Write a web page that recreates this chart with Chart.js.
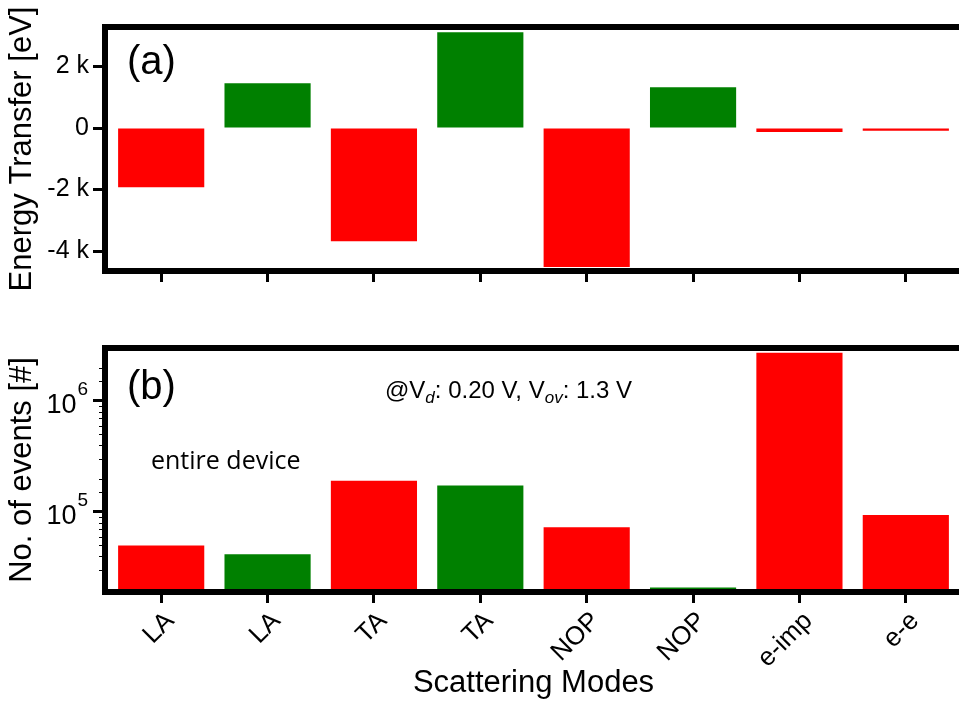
<!DOCTYPE html>
<html>
<head>
<meta charset="utf-8">
<script src="https://cdn.jsdelivr.net/npm/chart.js@4.4.1/dist/chart.umd.min.js"></script>
<style>
  html, body { margin: 0; padding: 0; background: #fff; }
  #wrap { position: relative; width: 959px; height: 704px; overflow: hidden; }
  .panel { position: absolute; left: 0; width: 959px; }
  #top { top: 0; height: 300px; }
  #bottom { top: 300px; height: 404px; }
</style>
</head>
<body>
<div id="wrap">
  <div class="panel" id="top"><canvas id="energyChart"></canvas></div>
  <div class="panel" id="bottom"><canvas id="eventsChart"></canvas></div>
</div>
<script>
// scattering modes, emission (red, loss) / absorption (green, gain)
const modes = ["LA", "LA", "TA", "TA", "NOP", "NOP", "e-imp", "e-e"];
const energyTransfer = [-1920, 1460, -3680, 3120, -4520, 1330, -130, -90];   // eV
const eventCounts = [49700, 41600, 191000, 173000, 72800, 20800, 2720000, 94000];
const energyTicks = [-4000, -2000, 0, 2000];
const eventTicks = [1e5, 1e6];
const energyRange = [-4550, 3190];
const eventRange = [20200, 2820000];

const lossColor = "#ff0000";
const gainColor = "#008000";
const barColors = energyTransfer.map(v => v < 0 ? lossColor : gainColor);

const FONT = "'Liberation Sans', Arial, sans-serif";
Chart.defaults.font.family = FONT;
Chart.defaults.color = "#000";
Chart.defaults.animation = false;

const AXIS_W = 108;

const framePlugin = {
    id: "frame",
    afterDatasetsDraw(chart) {
        const { ctx, chartArea: a } = chart;
        ctx.save();
        ctx.strokeStyle = "#000";
        ctx.lineWidth = 6;
        ctx.strokeRect(a.left - 3, a.top - 3, a.right - a.left + 6, a.bottom - a.top + 6);
        ctx.restore();
    }
};

function panelLabel(ctx, text, x, y) {
    ctx.font = "40px " + FONT;
    ctx.fillStyle = "#000";
    ctx.textBaseline = "alphabetic";
    ctx.textAlign = "left";
    ctx.fillText(text, x, y);
}

const energyNotes = {
    id: "energyNotes",
    afterDraw(chart) {
        const { ctx, chartArea: a } = chart;
        ctx.save();
        panelLabel(ctx, "(a)", a.left + 19, a.top + 44);
        ctx.restore();
    }
};

const eventNotes = {
    id: "eventNotes",
    afterDraw(chart) {
        const { ctx, chartArea: a } = chart;
        const y = chart.scales.y;
        ctx.save();
        panelLabel(ctx, "(b)", a.left + 19, a.top + 48);

        // bias condition with subscripts
        const parts = [
            ["@V", "24px " + FONT, 0],
            ["d", "italic 17px " + FONT, 5],
            [": 0.20 V, V", "24px " + FONT, 0],
            ["ov", "italic 17px " + FONT, 5],
            [": 1.3 V", "24px " + FONT, 0]
        ];
        let x = a.left + 277;
        parts.forEach(([t, f, dy]) => {
            ctx.font = f;
            ctx.fillText(t, x, a.top + 47 + dy);
            x += ctx.measureText(t).width;
        });

        ctx.font = "25px 'Open Sans', sans-serif";
        ctx.fillText("entire device", a.left + 43, a.top + 118);

        // decade labels 10^n
        eventTicks.forEach(v => {
            const py = y.getPixelForValue(v);
            const exp = String(Math.round(Math.log10(v)));
            ctx.font = "19px " + FONT;
            ctx.textAlign = "right";
            const ew = ctx.measureText(exp).width;
            const xr = a.left - 20;
            ctx.fillText(exp, xr, py - 6);
            ctx.font = "27px " + FONT;
            ctx.fillText("10", xr - ew - 1, py + 12);
        });

        // minor log ticks
        ctx.fillStyle = "#000";
        y.ticks.forEach(t => {
            if (isDecade(t.value)) return;
            const py = Math.round(y.getPixelForValue(t.value));
            if (py <= a.top || py >= a.bottom) return;
            ctx.fillRect(a.left - 9, py, 3, 1);
        });
        ctx.restore();
    }
};

function isDecade(v) {
    const e = Math.log10(v);
    return Math.abs(e - Math.round(e)) < 1e-9;
}

function xAxis(showLabels, height) {
    return {
        offset: true,
        border: { display: false },
        grid: { offset: false, drawOnChartArea: false, drawTicks: true, tickLength: 14, tickWidth: 3, color: "#000" },
        ticks: {
            display: showLabels,
            maxRotation: 45, minRotation: 45,
            labelOffset: 9,
            padding: 3,
            font: { size: 26 }
        },
        title: showLabels ? { display: true, text: "Scattering Modes", font: { size: 31 }, padding: { top: 0, bottom: 2 } } : { display: false },
        afterFit: s => { s.height = height; }
    };
}

new Chart(document.getElementById("energyChart"), {
    type: "bar",
    data: {
        labels: modes,
        datasets: [{ data: energyTransfer, backgroundColor: barColors, barPercentage: 0.81, categoryPercentage: 1 }]
    },
    options: {
        responsive: true,
        maintainAspectRatio: false,
        layout: { padding: { top: 30, left: 0, right: 0, bottom: 0 } },
        plugins: { legend: { display: false }, tooltip: { enabled: false } },
        scales: {
            x: xAxis(false, 32),
            y: {
                min: energyRange[0], max: energyRange[1],
                border: { display: false },
                afterBuildTicks: s => { s.ticks = energyTicks.map(v => ({ value: v })); },
                grid: { drawOnChartArea: false, tickLength: 15, tickWidth: 3, color: "#000" },
                ticks: {
                    padding: 4,
                    font: { size: 25 },
                    callback: v => v === 0 ? "0" : (v / 1000) + " k"
                },
                title: { display: true, text: "Energy Transfer [eV]", font: { size: 31 }, padding: { top: 4, bottom: 0 } },
                afterFit: s => { s.width = AXIS_W; }
            }
        }
    },
    plugins: [framePlugin, energyNotes]
});

new Chart(document.getElementById("eventsChart"), {
    type: "bar",
    data: {
        labels: modes,
        datasets: [{ data: eventCounts, backgroundColor: barColors, barPercentage: 0.81, categoryPercentage: 1 }]
    },
    options: {
        responsive: true,
        maintainAspectRatio: false,
        layout: { padding: { top: 51, left: 0, right: 0, bottom: 0 } },
        plugins: { legend: { display: false }, tooltip: { enabled: false } },
        scales: {
            x: xAxis(true, 115),
            y: {
                type: "logarithmic",
                min: eventRange[0], max: eventRange[1],
                border: { display: false },
                grid: {
                    drawOnChartArea: false, tickLength: 15,
                    tickWidth: c => isDecade(c.tick.value) ? 3 : 0,
                    tickColor: c => isDecade(c.tick.value) ? "#000" : "rgba(0,0,0,0)"
                },
                ticks: { autoSkip: false, padding: 4, font: { size: 24 }, callback: () => "" },
                title: { display: true, text: "No. of events [#]", font: { size: 31 }, padding: { top: 4, bottom: 0 } },
                afterFit: s => { s.width = AXIS_W; }
            }
        }
    },
    plugins: [framePlugin, eventNotes]
});
</script>
</body>
</html>
